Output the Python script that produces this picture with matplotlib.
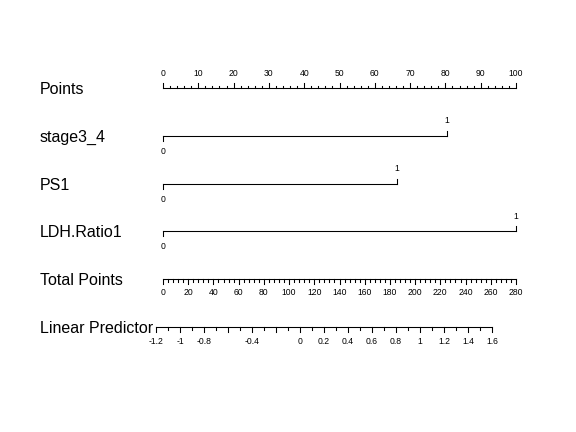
import numpy as np
import matplotlib
matplotlib.use('Agg')
import matplotlib.pyplot as plt

plt.rcParams['font.family'] = ['Liberation Sans', 'DejaVu Sans']

# Nomogram values (points given to level 1 of each predictor)
variables = ['stage3_4', 'PS1', 'LDH.Ratio1']
var_points = [80.4, 66.3, 100.0]

points_ticks = np.arange(0, 101, 10)
points_minor = np.arange(0, 101, 2)

total_max = 280
total_ticks = np.arange(0, 281, 20)
total_minor = np.arange(0, 281, 4)

lp_ticks = [-1.2, -1.0, -0.8, -0.6, -0.4, -0.2, 0.0, 0.2, 0.4, 0.6, 0.8, 1.0, 1.2, 1.4, 1.6]
lp_labels = ['-1.2', '-1', '-0.8', '', '-0.4', '', '0', '0.2', '0.4', '0.6', '0.8',
             '1', '1.2', '1.4', '1.6']
lp_minor = np.round(np.arange(-1.2, 1.61, 0.1), 2)
lp_at_zero_points = -1.142   # linear predictor when total points = 0
points_per_lp = 95.2         # total points per unit of linear predictor

row_names = ['Points'] + variables + ['Total Points', 'Linear Predictor']


def total_to_x(t):
    return np.asarray(t) * 100.0 / total_max


def lp_to_x(lp):
    return total_to_x((np.asarray(lp) - lp_at_zero_points) * points_per_lp)


fig = plt.figure(figsize=(6, 4.5), dpi=96)
ax = fig.add_axes([0, 0, 1, 1])
# x in "points" units, y in pixel rows
ax.set_xlim(-163 / 3.53, (576 - 163) / 3.53)
ax.set_ylim(432, 0)
ax.axis('off')

row_y = 88 + 47.8 * np.arange(len(row_names))
lw = 0.8
tick_fs = 6.5
major_len, minor_len = 5, 2.5

# row labels
for name, y in zip(row_names, row_y):
    ax.text(40 / 576, 1 - (y + 6) / 432, name, transform=fig.transFigure,
            fontsize=12, ha='left', va='baseline')

# Points axis (ticks upward)
y = row_y[0]
ax.plot([0, 100], [y, y], color='black', lw=lw)
for v in points_minor:
    ln = major_len if v % 10 == 0 else minor_len
    ax.plot([v, v], [y, y - ln], color='black', lw=lw)
for v in points_ticks:
    ax.text(v, y - 14, str(v), fontsize=tick_fs, ha='center', va='center')

# predictor rows
for i, pts in enumerate(var_points):
    y = row_y[i + 1]
    ax.plot([0, pts], [y, y], color='black', lw=lw)
    ax.plot([0, 0], [y, y + 5], color='black', lw=lw)
    ax.plot([pts, pts], [y, y - 5], color='black', lw=lw)
    ax.text(0, y + 15.5, '0', fontsize=tick_fs, ha='center', va='center')
    ax.text(pts, y - 15, '1', fontsize=tick_fs, ha='center', va='center')

# Total Points axis (ticks downward)
y = row_y[4]
ax.plot(total_to_x([0, total_max]), [y, y], color='black', lw=lw)
for v in total_minor:
    ln = major_len if v % 20 == 0 else minor_len
    x = total_to_x(v)
    ax.plot([x, x], [y, y + ln], color='black', lw=lw)
for v in total_ticks:
    ax.text(total_to_x(v), y + 13.5, str(v), fontsize=tick_fs, ha='center', va='center')

# Linear Predictor axis
y = row_y[5]
ax.plot(lp_to_x([lp_ticks[0], lp_ticks[-1]]), [y, y], color='black', lw=lw)
for v in lp_minor:
    ln = major_len if np.isclose(v * 5, round(v * 5)) else minor_len
    x = lp_to_x(v)
    ax.plot([x, x], [y, y + ln], color='black', lw=lw)
for v, lab in zip(lp_ticks, lp_labels):
    if lab:
        ax.text(lp_to_x(v), y + 14, lab, fontsize=tick_fs, ha='center', va='center')

fig.savefig('out.png', dpi=96)
